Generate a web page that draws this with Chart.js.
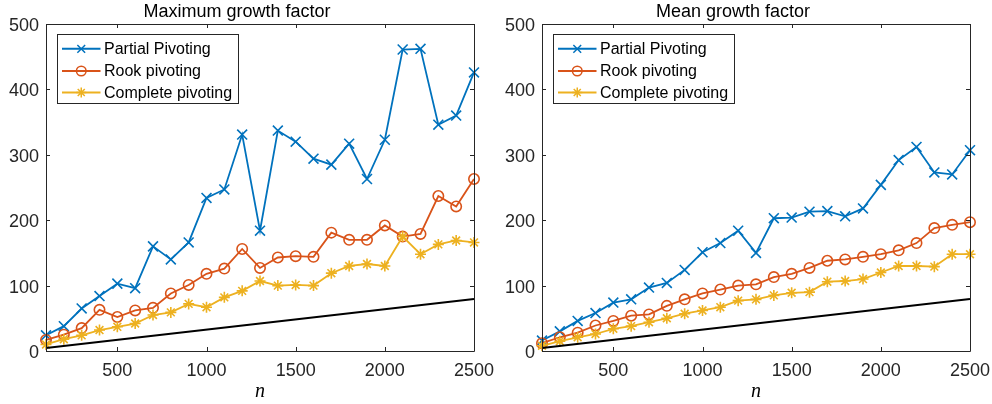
<!DOCTYPE html>
<html><head><meta charset="utf-8">
<script src="https://cdn.jsdelivr.net/npm/chart.js@4.4.1/dist/chart.umd.min.js"></script>
<style>
html,body{margin:0;padding:0;background:#fff;}
#wrap{position:relative;width:992px;height:404px;background:#fff;}
.box{position:absolute;top:0;width:496px;height:404px;}
</style></head><body>
<div id="wrap">
<div class="box" style="left:0"><canvas id="c1"></canvas></div>
<div class="box" style="left:496px"><canvas id="c2"></canvas></div>
</div>
<script>
// ---- data ----
const nValues = [100, 200, 300, 400, 500, 600, 700, 800, 900, 1000, 1100, 1200, 1300,
                 1400, 1500, 1600, 1700, 1800, 1900, 2000, 2100, 2200, 2300, 2400, 2500];
const maxPartial  = [24, 38, 65, 84, 103, 96, 160, 140, 166, 234, 247, 331, 184, 337, 320, 294, 285, 317, 263, 323, 461, 462, 346, 360, 426];
const maxRook     = [17, 25, 35, 63, 52, 62, 66, 88, 101, 118, 126, 156, 127, 143, 145, 144, 181, 170, 170, 192, 175, 179, 237, 221, 263];
const maxComplete = [10, 18, 24, 32, 37, 42, 55, 59, 72, 67, 82, 92, 107, 100, 101, 100, 119, 130, 133, 130, 175, 148, 163, 169, 166];
const meanPartial  = [16, 30, 46, 58, 74, 79, 97, 104, 124, 151, 165, 184, 150, 203, 204, 213, 214, 206, 218, 254, 292, 312, 273, 270, 307];
const meanRook     = [12, 21, 28, 39, 46, 54, 56, 69, 79, 88, 94, 100, 102, 113, 118, 127, 138, 140, 144, 148, 154, 165, 188, 193, 197];
const meanComplete = [8, 15, 21, 26, 34, 38, 44, 50, 57, 62, 67, 77, 79, 85, 89, 90, 106, 107, 110, 120, 130, 130, 129, 148, 148];
const refN = [100, 2500];
const refY = [4.5, 79.5];
const xTickValues = [500, 1000, 1500, 2000, 2500];
const yTickValues = [0, 100, 200, 300, 400, 500];
const seriesNames = ['Partial Pivoting', 'Rook pivoting', 'Complete pivoting'];
const chartTitles = ['Maximum growth factor', 'Mean growth factor'];
const xAxisLabel = 'n';

// ---- styles ----
const COLORS = ['#0072BD', '#D95319', '#EDB120'];
const STYLES = ['crossRot', 'circle', 'star'];
const RADII = [7, 5.2, 5.5];
const LEG_RADII = [5.5, 4.8, 5];
const AXIS = '#262626';

function pts(xs, ys) { return xs.map((x, i) => ({x: x, y: ys[i]})); }

const framePlugin = {
  id: 'frame',
  afterDatasetsDraw(chart) {
    const {ctx, chartArea: a, scales} = chart;
    ctx.save();
    ctx.strokeStyle = AXIS;
    ctx.lineWidth = 1;
    ctx.beginPath();
    ctx.rect(Math.round(a.left) + 0.5, Math.round(a.top) + 0.5,
             Math.round(a.right - a.left), Math.round(a.bottom - a.top));
    ctx.stroke();
    const tl = 4;
    ctx.beginPath();
    xTickValues.forEach(v => {
      const px = Math.round(scales.x.getPixelForValue(v)) + 0.5;
      ctx.moveTo(px, a.bottom); ctx.lineTo(px, a.bottom - tl);
      ctx.moveTo(px, a.top); ctx.lineTo(px, a.top + tl);
    });
    yTickValues.forEach(v => {
      const py = Math.round(scales.y.getPixelForValue(v)) + 0.5;
      ctx.moveTo(a.left, py); ctx.lineTo(a.left + tl, py);
      ctx.moveTo(a.right, py); ctx.lineTo(a.right - tl, py);
    });
    ctx.stroke();
    ctx.restore();
  },
  afterDraw(chart) {
    const {ctx, chartArea: a} = chart;
    ctx.save();
    ctx.font = '16px "Liberation Sans", Arial, sans-serif';
    const bx = Math.round(a.left + 10.5) + 0.5, by = Math.round(a.top + 10) + 0.5;
    const textX = 46.5, lineX0 = 4.5, lineX1 = 43;
    let w = 0;
    seriesNames.forEach(s => { w = Math.max(w, ctx.measureText(s).width); });
    const bw = Math.round(textX + w + 6), bh = 69;
    ctx.fillStyle = '#fff';
    ctx.fillRect(bx, by, bw, bh);
    ctx.strokeStyle = AXIS;
    ctx.lineWidth = 1;
    ctx.strokeRect(bx, by, bw, bh);
    const rows = [14.3, 36.5, 58];
    seriesNames.forEach((s, i) => {
      const cy = by + rows[i];
      ctx.strokeStyle = COLORS[i];
      ctx.lineWidth = 2;
      ctx.beginPath();
      ctx.moveTo(bx + lineX0, cy); ctx.lineTo(bx + lineX1, cy);
      ctx.stroke();
      ctx.lineWidth = 1.5;
      ctx.fillStyle = 'rgba(0,0,0,0)';
      Chart.helpers.drawPoint(ctx, {pointStyle: STYLES[i], radius: LEG_RADII[i], borderWidth: 1.5, rotation: 0},
        bx + (lineX0 + lineX1) / 2, cy);
      ctx.fillStyle = '#000';
      ctx.textBaseline = 'middle';
      ctx.textAlign = 'left';
      ctx.fillText(s, bx + textX, cy + 1);
    });
    ctx.restore();
  }
};

function makeChart(id, title, series) {
  const datasets = series.map((ys, i) => ({
    label: seriesNames[i],
    data: pts(nValues, ys),
    borderColor: COLORS[i],
    backgroundColor: 'rgba(0,0,0,0)',
    borderWidth: 1.8,
    pointStyle: STYLES[i],
    pointRadius: RADII[i],
    pointBorderWidth: 1.6,
    pointBorderColor: COLORS[i],
    pointBackgroundColor: 'rgba(0,0,0,0)',
    tension: 0,
    clip: false,
    order: 4 - i
  }));
  datasets.push({
    label: 'reference',
    data: pts(refN, refY),
    borderColor: '#000',
    borderWidth: 2,
    pointRadius: 0,
    tension: 0,
    clip: false,
    order: 0
  });
  return new Chart(document.getElementById(id), {
    type: 'line',
    data: {datasets},
    plugins: [framePlugin],
    options: {
      responsive: true,
      maintainAspectRatio: false,
      devicePixelRatio: 1,
      animation: false,
      layout: {padding: {left: 0, right: 22, top: 0, bottom: 0}},
      plugins: {
        legend: {display: false},
        tooltip: {enabled: false},
        title: {
          display: true,
          text: title,
          color: '#000',
          font: {family: '"Liberation Sans", Arial, sans-serif', size: 18, weight: 'normal', lineHeight: 1.2},
          padding: {top: 1.2, bottom: 1.2}
        }
      },
      scales: {
        x: {
          type: 'linear',
          min: 100, max: 2500,
          afterBuildTicks: s => { s.ticks = xTickValues.map(v => ({value: v})); },
          afterFit: s => { s.height = 53; s.paddingLeft = 0; s.paddingRight = 0; },
          grid: {display: false, drawTicks: false},
          border: {display: false},
          ticks: {
            padding: 9, color: AXIS, maxRotation: 0, autoSkip: false,
            callback: v => String(v),
            font: {family: '"Liberation Sans", Arial, sans-serif', size: 18, lineHeight: 1.2}
          },
          title: {
            display: true, text: xAxisLabel, color: '#000',
            font: {family: '"Liberation Serif", "Times New Roman", serif', style: 'italic', size: 20, lineHeight: 1.2},
            padding: {top: 0, bottom: 0}
          }
        },
        y: {
          min: 0, max: 500,
          afterBuildTicks: s => { s.ticks = yTickValues.map(v => ({value: v})); },
          afterFit: s => { s.width = 46; s.paddingTop = 0; s.paddingBottom = 0; },
          grid: {display: false, drawTicks: false},
          border: {display: false},
          ticks: {
            padding: 7, labelOffset: 2, color: AXIS, autoSkip: false,
            callback: v => String(v),
            font: {family: '"Liberation Sans", Arial, sans-serif', size: 18, lineHeight: 1.2}
          }
        }
      }
    }
  });
}

makeChart('c1', chartTitles[0], [maxPartial, maxRook, maxComplete]);
makeChart('c2', chartTitles[1], [meanPartial, meanRook, meanComplete]);
</script>
</body></html>
